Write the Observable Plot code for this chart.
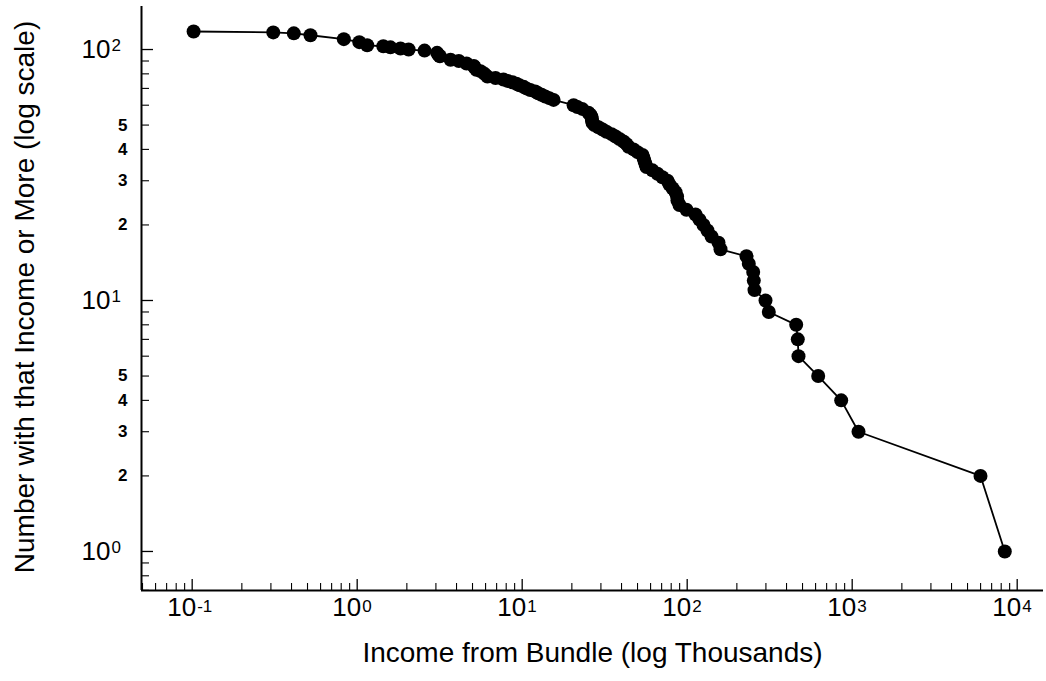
<!DOCTYPE html>
<html>
<head>
<meta charset="utf-8">
<script src="https://cdn.jsdelivr.net/npm/d3@7"></script>
<script src="https://cdn.jsdelivr.net/npm/@observablehq/plot@0.6"></script>
<style>
  html, body { margin: 0; padding: 0; background: #fff; }
  #chart svg { display: block; }
</style>
</head>
<body>
<div id="chart"></div>
<script>
// ---- data (rank plot: count with that income or more) ----
const counts = [118,117,116,114,110,107,104,103,102,101,100,99,97,95,94,91,90,88,86,85,
  83,82,80,78,77,76,75,74,73,72,71,70,69,68,67,66,65,64,63,60,59,58,56,55,54,53,52,51,50,49,
  48,47,46,45,44,43,42,41,40,39,38,37,36,35,34,33,32,31,30,29,28,27,26,25,24,23,22,21,20,19,
  18,17,16,15,14,13,12,11,10,9,8,7,6,5,4,3,2,1];
const incomes = [0.102,0.31,0.413,0.521,0.83,1.03,1.15,1.44,1.59,1.83,2.05,2.56,3.05,3.12,3.17,
  3.68,4.13,4.60,5.09,5.14,5.28,5.59,5.91,6.16,6.89,7.70,8.15,8.74,9.24,9.63,10.2,10.6,11.2,12.0,
  12.5,13.1,13.8,14.6,15.5,20.5,21.6,23.1,25.2,25.9,26.3,26.4,26.5,26.7,27.4,29.0,30.7,32.4,34.8,
  36.8,38.9,41.1,42.9,44.1,47.3,50.0,53.6,54.4,55.1,55.9,56.7,61.6,66.1,70.8,76.0,78.1,81.5,85.0,
  86.8,87.3,89.8,99.0,112.3,118.7,125.6,132.7,140.4,154.8,159.2,228.8,236.2,251.2,253.3,255.8,
  298.3,312.3,457.8,468.1,472.7,622.2,857.8,1092,5993,8411];

// ---- axes ----
const xDomain = [0.0493, 14435];
const yDomain = [0.699, 148.4];
const xExponents = [-1, 0, 1, 2, 3, 4];
const yExponents = [0, 1, 2];
const minorMultipliers = [2, 3, 4, 5, 6, 7, 8, 9];
const ySmallLabels = [2, 3, 4, 5, 20, 30, 40, 50];
const xTitle = "Income from Bundle (log Thousands)";
const yTitle = "Number with that Income or More (log scale)";

const data = counts.map((c, i) => ({income: incomes[i], count: c}));

const inRange = (v, d) => v >= d[0] && v <= d[1];
const xMajor = xExponents.map(e => Math.pow(10, e));
const yMajor = yExponents.map(e => Math.pow(10, e));
const xMinor = [-2, -1, 0, 1, 2, 3].flatMap(e => minorMultipliers.map(m => m * Math.pow(10, e))).filter(v => inRange(v, xDomain));
const yMinor = [-1, 0, 1].flatMap(e => minorMultipliers.map(m => m * Math.pow(10, e))).filter(v => inRange(v, yDomain));

const W = 1046, H = 681;
const mL = 141, mR = 3, mT = 6, mB = 91;
const innerW = W - mL - mR, innerH = H - mT - mB;
const font = "'Liberation Sans', Arial, Helvetica, sans-serif";

const chart = Plot.plot({
  width: W,
  height: H,
  marginLeft: mL, marginRight: mR, marginTop: mT, marginBottom: mB,
  style: {fontFamily: font, background: "#fff", color: "#000"},
  x: {type: "log", domain: xDomain, axis: null},
  y: {type: "log", domain: yDomain, axis: null},
  marks: [
    // axis lines
    Plot.ruleX([xDomain[0]], {stroke: "#000", strokeWidth: 2}),
    Plot.ruleY([yDomain[0]], {stroke: "#000", strokeWidth: 2}),
    // x ticks (pointing up, inside)
    Plot.tickX(xMajor, {x: d => d, stroke: "#000", strokeWidth: 1.3, insetTop: innerH - 11}),
    Plot.tickX(xMinor, {x: d => d, stroke: "#000", strokeWidth: 1.1, insetTop: innerH - 7}),
    // y ticks (pointing right, inside)
    Plot.tickY(yMajor, {y: d => d, stroke: "#000", strokeWidth: 1.3, insetRight: innerW - 12}),
    Plot.tickY(yMinor, {y: d => d, stroke: "#000", strokeWidth: 1.1, insetRight: innerW - 8}),
    // x tick labels 10^k
    Plot.text(xMajor, {x: d => d, text: () => "10", frameAnchor: "bottom", textAnchor: "end",
      dx: 4, dy: 25, fontSize: 26, fill: "#000"}),
    Plot.text(xExponents, {x: e => Math.pow(10, e), text: e => String(e), frameAnchor: "bottom",
      textAnchor: "start", dx: 5, dy: 21, fontSize: 17, fill: "#000"}),
    // y tick labels 10^k
    Plot.text(yMajor, {y: d => d, text: () => "10", frameAnchor: "left", textAnchor: "end",
      dx: -31, dy: 0, fontSize: 26, fill: "#000"}),
    Plot.text(yExponents, {y: e => Math.pow(10, e), text: e => String(e), frameAnchor: "left",
      textAnchor: "start", dx: -30, dy: -4, fontSize: 17, fill: "#000"}),
    Plot.text(ySmallLabels, {y: d => d, text: d => String(d / Math.pow(10, Math.floor(Math.log10(d)))),
      frameAnchor: "left", textAnchor: "end", dx: -14, fontSize: 17, fontWeight: "bold", fill: "#000"}),
    // titles
    Plot.text([xTitle], {frameAnchor: "bottom", textAnchor: "middle", dy: 71, fontSize: 28, fill: "#000"}),
    Plot.text([yTitle], {frameAnchor: "left", textAnchor: "middle", rotate: -90, dx: -116, dy: -1.5, fontSize: 28, fill: "#000"}),
    // data
    Plot.line(data, {x: "income", y: "count", stroke: "#000", strokeWidth: 1.8}),
    Plot.dot(data, {x: "income", y: "count", r: 7, fill: "#000", stroke: "none"})
  ]
});
document.getElementById("chart").appendChild(chart);
</script>
</body>
</html>
